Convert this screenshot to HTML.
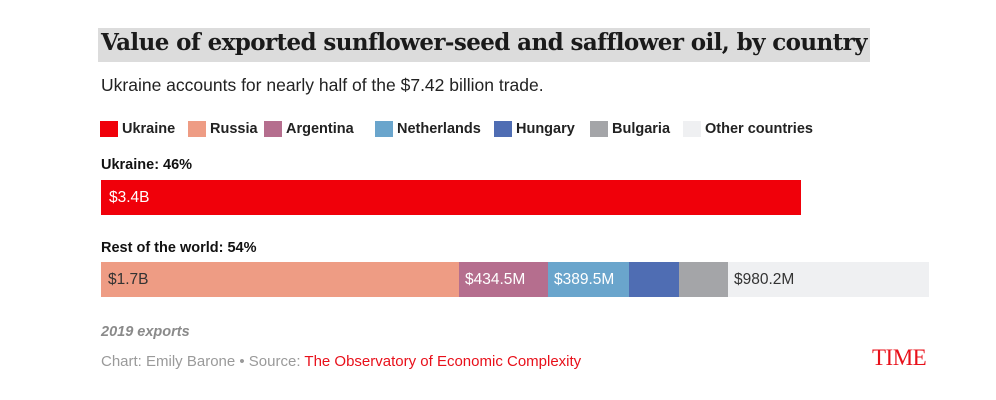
<!DOCTYPE html>
<html><head><meta charset="utf-8"><style>
body{margin:0;width:996px;height:400px;background:#fff;position:relative;overflow:hidden;font-family:"Liberation Sans",sans-serif;}
.a{position:absolute;white-space:nowrap;}
.t{left:98px;top:28px;width:772px;height:34px;background:#dcdcdc;}
.tt{left:101px;top:29px;font-family:"DejaVu Serif","Liberation Serif",serif;font-weight:bold;font-size:23px;color:#1a1a1a;letter-spacing:-0.6px;}
.sub{left:101px;top:75px;font-size:17.5px;color:#222;}
.sq{width:18px;height:16px;top:121px;}
.lg{top:121px;font-family:"Liberation Sans Narrow","Liberation Sans",sans-serif;font-weight:bold;font-size:14.5px;color:#222;}
.lab{font-family:"Liberation Sans Narrow","Liberation Sans",sans-serif;font-weight:bold;font-size:14.5px;color:#111;}
.seg{height:35px;top:262px;font-family:"Liberation Sans Narrow","Liberation Sans",sans-serif;font-size:15.5px;line-height:35px;}
</style></head><body>
<div class="a t"></div>
<div class="a tt">Value of exported sunflower-seed and safflower oil, by country</div>
<div class="a sub">Ukraine accounts for nearly half of the $7.42 billion trade.</div>

<div class="a sq" style="left:100px;background:#f0000a"></div><div class="a lg" style="left:122px">Ukraine</div>
<div class="a sq" style="left:188px;background:#ee9c84"></div><div class="a lg" style="left:210px">Russia</div>
<div class="a sq" style="left:264px;background:#b56e8e"></div><div class="a lg" style="left:286px">Argentina</div>
<div class="a sq" style="left:375px;background:#6aa5cc"></div><div class="a lg" style="left:397px">Netherlands</div>
<div class="a sq" style="left:494px;background:#4f6db3"></div><div class="a lg" style="left:516px">Hungary</div>
<div class="a sq" style="left:590px;background:#a4a5a8"></div><div class="a lg" style="left:612px">Bulgaria</div>
<div class="a sq" style="left:683px;background:#eff0f2"></div><div class="a lg" style="left:705px">Other countries</div>

<div class="a lab" style="left:101px;top:157px">Ukraine: 46%</div>
<div class="a seg" style="left:101px;top:180px;width:700px;background:#f0000a;color:#fff;"><span style="padding-left:8px">$3.4B</span></div>

<div class="a lab" style="left:101px;top:240px">Rest of the world: 54%</div>
<div class="a seg" style="left:101px;width:358px;background:#ee9c84;color:#333"><span style="padding-left:7px">$1.7B</span></div>
<div class="a seg" style="left:459px;width:89px;background:#b56e8e;color:#fff"><span style="padding-left:6px">$434.5M</span></div>
<div class="a seg" style="left:548px;width:81px;background:#6aa5cc;color:#fff"><span style="padding-left:6px">$389.5M</span></div>
<div class="a seg" style="left:629px;width:50px;background:#4f6db3"></div>
<div class="a seg" style="left:679px;width:49px;background:#a4a5a8"></div>
<div class="a seg" style="left:728px;width:201px;background:#eff0f2;color:#333"><span style="padding-left:6px">$980.2M</span></div>

<div class="a" style="left:101px;top:324px;font-style:italic;font-weight:bold;font-size:14.5px;color:#8a8a8a;font-family:'Liberation Sans Narrow','Liberation Sans',sans-serif">2019 exports</div>
<div class="a" style="left:101px;top:353px;font-size:15px;color:#9a9a9a;font-family:'Liberation Sans Narrow','Liberation Sans',sans-serif">Chart: Emily Barone • Source: <span style="color:#e8101a">The Observatory of Economic Complexity</span></div>
<div class="a" style="left:872px;top:345px;font-family:'Liberation Serif',serif;font-size:23px;color:#e8101a;letter-spacing:-0.5px">TIME</div>
</body></html>
